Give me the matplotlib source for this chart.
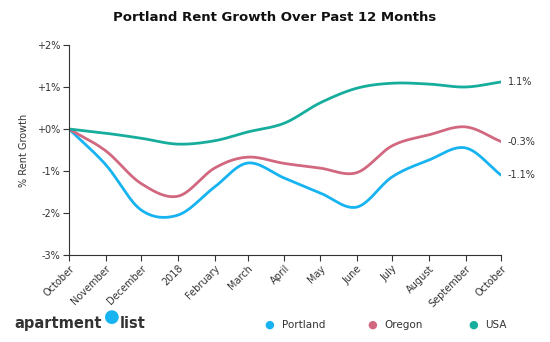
import numpy as np
import pandas as pd
import matplotlib.pyplot as plt

# monthly values (% rent growth since Oct 2017)
months = pd.date_range('2017-10-01', '2018-10-01', freq='MS')
tick_labels = ['October', 'November', 'December', '2018', 'February', 'March',
               'April', 'May', 'June', 'July', 'August', 'September', 'October']
portland = [0.0, -0.85, -1.93, -2.05, -1.38, -0.81, -1.17, -1.52, -1.86,
            -1.14, -0.74, -0.45, -1.1]
oregon = [0.0, -0.52, -1.3, -1.6, -0.93, -0.67, -0.82, -0.93, -1.04,
          -0.4, -0.14, 0.05, -0.3]
usa = [0.0, -0.1, -0.22, -0.36, -0.28, -0.07, 0.14, 0.62, 0.97,
       1.09, 1.07, 1.0, 1.12]
series = [('Portland', portland, '#17b3f0'),
          ('Oregon', oregon, '#d1687f'),
          ('USA', usa, '#17ad9d')]
end_labels = ['-1.1%', '-0.3%', '1.1%']

days = np.array((months - months[0]).days, dtype=float)


def catmull_rom(x, y, n=30):
    """Smooth curve through the points (uniform Catmull-Rom)."""
    x = np.asarray(x, float)
    y = np.asarray(y, float)
    # extend the ends linearly so the curve leaves the first/last point straight
    px = np.concatenate([[2 * x[0] - x[1]], x, [2 * x[-1] - x[-2]]])
    py = np.concatenate([[2 * y[0] - y[1]], y, [2 * y[-1] - y[-2]]])
    xs, ys = [], []
    t = np.linspace(0, 1, n, endpoint=False)
    for i in range(1, len(px) - 2):
        for p, out in ((px, xs), (py, ys)):
            p0, p1, p2, p3 = p[i - 1], p[i], p[i + 1], p[i + 2]
            out.append(0.5 * (2 * p1 + (-p0 + p2) * t
                              + (2 * p0 - 5 * p1 + 4 * p2 - p3) * t ** 2
                              + (-p0 + 3 * p1 - 3 * p2 + p3) * t ** 3))
    xs.append([x[-1]])
    ys.append([y[-1]])
    return np.concatenate(xs), np.concatenate(ys)


fig = plt.figure(figsize=(5.5, 3.42), dpi=100)
ax = fig.add_axes([0.1255, 0.2544, 0.7855, 0.614])

for (name, vals, color), lab in zip(series, end_labels):
    sx, sy = catmull_rom(days, vals)
    ax.plot(sx, sy, color=color, lw=2.0, solid_capstyle='round')
    ax.annotate(lab, (days[-1], vals[-1]), xytext=(5, 0),
                textcoords='offset points', va='center', ha='left',
                fontsize=7, color='#333333')

ax.set_xlim(days[0], days[-1])
ax.set_ylim(-3, 2)
ax.set_xticks(days)
ax.set_xticklabels(tick_labels, rotation=45, ha='right',
                   rotation_mode='anchor', fontsize=7, color='#333333')
ax.set_yticks([2, 1, 0, -1, -2, -3])
ax.set_yticklabels(['+2%', '+1%', '+0%', '-1%', '-2%', '-3%'],
                   fontsize=7, color='#333333')
ax.tick_params(length=4, width=0.8, color='#333333', pad=2)
for side in ('top', 'right'):
    ax.spines[side].set_visible(False)
for side in ('left', 'bottom'):
    ax.spines[side].set_color('#333333')
    ax.spines[side].set_linewidth(0.8)
ax.set_ylabel('% Rent Growth', fontsize=7, color='#333333', labelpad=6)

fig.text(0.5, 0.95, 'Portland Rent Growth Over Past 12 Months',
         ha='center', va='center', fontsize=9.5, color='#111111',
         fontweight='semibold')

# legend along the bottom
for (name, vals, color), x in zip(series, [0.49, 0.676, 0.86]):
    fig.text(x, 0.05, '\u25cf', color=color, fontsize=8,
             ha='center', va='center')
    fig.text(x + 0.022, 0.05, name, color='#333333', fontsize=7.5,
             ha='left', va='center')

# logo
fig.text(0.027, 0.055, 'apartment', fontsize=10.5, fontweight='bold',
         color='#333333', ha='left', va='center')
fig.text(0.204, 0.072, '\u25cf', fontsize=13, color='#17b3f0',
         ha='center', va='center')
fig.text(0.218, 0.055, 'list', fontsize=10.5, fontweight='bold',
         color='#333333', ha='left', va='center')

fig.savefig('out.png', dpi=100)
